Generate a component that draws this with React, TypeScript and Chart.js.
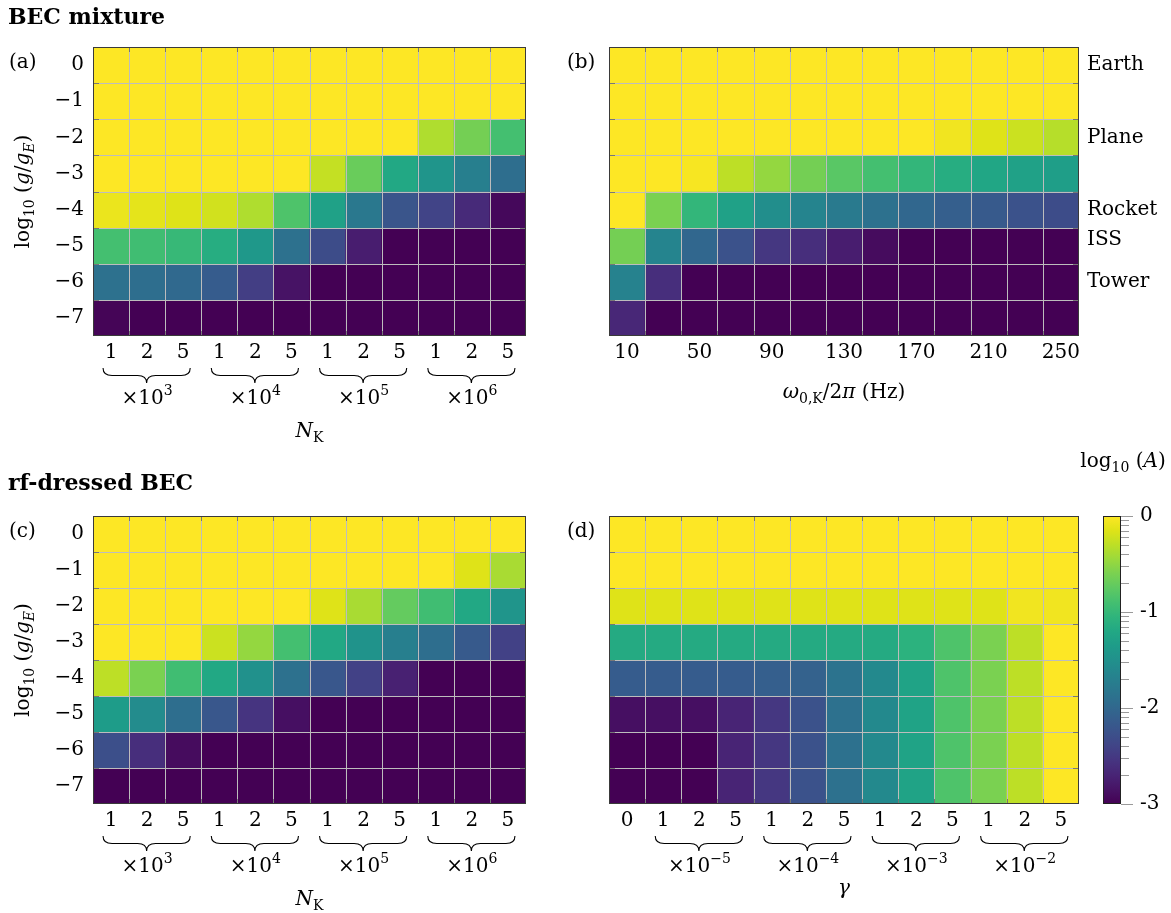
import React, { useEffect, useRef } from 'react';
import { Chart, registerables } from 'chart.js';

Chart.register(...registerables);

// ---------------- data ----------------
const G_ROWS = [0, -1, -2, -3, -4, -5, -6, -7]; // log10(g/gE), top to bottom
const Y_TICKS = [0, -1, -2, -3, -4, -5, -6, -7];

const NK_LABELS = ['1', '2', '5', '1', '2', '5', '1', '2', '5', '1', '2', '5'];
const NK_EXPONENTS = ['3', '4', '5', '6'];
const OMEGA_LABELS = ['10', '30', '50', '70', '90', '110', '130', '150', '170', '190', '210', '230', '250'];
const GAMMA_LABELS = ['0', '1', '2', '5', '1', '2', '5', '1', '2', '5', '1', '2', '5'];
const GAMMA_EXPONENTS = ['\u22125', '\u22124', '\u22123', '\u22122'];

const PLATFORMS = ['Earth', 'Plane', 'Rocket', 'ISS', 'Tower'];
const PLATFORM_G = [0, -2, -4, -4.85, -6];

const CBAR_MIN = -3;
const CBAR_MAX = 0;
const CBAR_TICKS = [0, -1, -2, -3];

// log10(A) values, rows from log10(g/gE)=0 (top) to -7 (bottom)
const MIX_NK = [
  [0, 0, 0, 0, 0, 0, 0, 0, 0, 0, 0, 0],
  [0, 0, 0, 0, 0, 0, 0, 0, 0, 0, 0, 0],
  [0, 0, 0, 0, 0, 0, 0, 0, 0, -0.36, -0.63, -0.9],
  [0, 0, 0, 0, 0, 0, -0.27, -0.69, -1.2, -1.44, -1.71, -1.92],
  [-0.09, -0.12, -0.15, -0.21, -0.36, -0.84, -1.29, -1.8, -2.22, -2.4, -2.64, -2.94],
  [-0.9, -0.93, -0.99, -1.14, -1.41, -1.89, -2.31, -2.76, -3, -3, -3, -3],
  [-1.89, -1.92, -1.98, -2.13, -2.46, -2.85, -3, -3, -3, -3, -3, -3],
  [-2.97, -3, -3, -3, -3, -3, -3, -3, -3, -3, -3, -3],
];

const MIX_OMEGA = [
  [0, 0, 0, 0, 0, 0, 0, 0, 0, 0, 0, 0, 0],
  [0, 0, 0, 0, 0, 0, 0, 0, 0, 0, 0, 0, 0],
  [0, 0, 0, 0, 0, 0, 0, 0, 0, -0.06, -0.15, -0.24, -0.33],
  [0, 0, -0.03, -0.3, -0.48, -0.63, -0.78, -0.9, -1.02, -1.14, -1.23, -1.29, -1.32],
  [0, -0.6, -1.02, -1.29, -1.53, -1.65, -1.77, -1.89, -2.01, -2.1, -2.16, -2.25, -2.31],
  [-0.63, -1.65, -2.01, -2.25, -2.52, -2.61, -2.76, -2.91, -3, -3, -3, -3, -3],
  [-1.68, -2.61, -3, -3, -3, -3, -3, -3, -3, -3, -3, -3, -3],
  [-2.67, -3, -3, -3, -3, -3, -3, -3, -3, -3, -3, -3, -3],
];

const RF_NK = [
  [0, 0, 0, 0, 0, 0, 0, 0, 0, 0, 0, 0],
  [0, 0, 0, 0, 0, 0, 0, 0, 0, 0, -0.15, -0.39],
  [0, 0, 0, 0, 0, 0, -0.15, -0.39, -0.72, -0.93, -1.2, -1.44],
  [0, 0, 0, -0.24, -0.48, -0.9, -1.2, -1.47, -1.71, -1.92, -2.16, -2.43],
  [-0.3, -0.6, -0.93, -1.2, -1.5, -1.89, -2.19, -2.43, -2.73, -3, -3, -3],
  [-1.35, -1.56, -1.92, -2.19, -2.55, -2.88, -3, -3, -3, -3, -3, -3],
  [-2.28, -2.61, -2.91, -3, -3, -3, -3, -3, -3, -3, -3, -3],
  [-3, -3, -3, -3, -3, -3, -3, -3, -3, -3, -3, -3],
];

const RF_GAMMA = [
  [0, 0, 0, 0, 0, 0, 0, 0, 0, 0, 0, 0, 0],
  [0, 0, 0, 0, 0, 0, 0, 0, 0, 0, 0, 0, 0],
  [-0.15, -0.15, -0.15, -0.15, -0.15, -0.15, -0.15, -0.15, -0.15, -0.15, -0.15, -0.06, -0.06],
  [-1.17, -1.17, -1.17, -1.17, -1.17, -1.17, -1.17, -1.17, -1.08, -0.84, -0.6, -0.3, 0],
  [-2.13, -2.13, -2.13, -2.13, -2.1, -2.07, -1.86, -1.59, -1.26, -0.84, -0.6, -0.3, 0],
  [-2.88, -2.88, -2.88, -2.7, -2.52, -2.25, -1.89, -1.59, -1.26, -0.84, -0.6, -0.3, 0],
  [-3, -3, -3, -2.7, -2.52, -2.25, -1.89, -1.59, -1.26, -0.84, -0.6, -0.3, 0],
  [-3, -3, -3, -2.7, -2.52, -2.25, -1.89, -1.59, -1.26, -0.84, -0.6, -0.3, 0],
];

// viridis colour map
const VIRIDIS = [
  '#440154', '#471365', '#482475', '#463480', '#414487', '#3b528b', '#355f8d',
  '#2f6c8e', '#2a788e', '#25848e', '#21918c', '#1e9c89', '#22a884', '#2fb47c',
  '#44bf70', '#5ec962', '#7ad151', '#9bd93c', '#bddf26', '#dfe318', '#fde725',
];

// ---------------- helpers ----------------
const SERIF = '"DejaVu Serif", "Liberation Serif", serif';
const FS = 20;
const F_MAIN = `${FS}px ${SERIF}`;
const F_IT = `italic ${FS}px ${SERIF}`;
const F_SUB = `14px ${SERIF}`;
const F_SUB_IT = `italic 14px ${SERIF}`;
const F_BOLD = `bold 22px ${SERIF}`;

function hexRgb(h: string): number[] {
  return [parseInt(h.slice(1, 3), 16), parseInt(h.slice(3, 5), 16), parseInt(h.slice(5, 7), 16)];
}

function viridis(v: number): string {
  const t = Math.min(1, Math.max(0, (v - CBAR_MIN) / (CBAR_MAX - CBAR_MIN)));
  const n = VIRIDIS.length - 1;
  const p = t * n;
  const i = Math.min(n - 1, Math.floor(p));
  const f = p - i;
  const a = hexRgb(VIRIDIS[i]);
  const b = hexRgb(VIRIDIS[i + 1]);
  const c = a.map((x, k) => Math.round(x + (b[k] - x) * f));
  return `rgb(${c[0]},${c[1]},${c[2]})`;
}

type Seg = { t: string; f: string; dy?: number };

function drawRich(ctx: CanvasRenderingContext2D, segs: Seg[], x: number, y: number, align: 'left' | 'center') {
  ctx.save();
  ctx.textAlign = 'left';
  ctx.textBaseline = 'alphabetic';
  ctx.fillStyle = '#000';
  let w = 0;
  for (const s of segs) {
    ctx.font = s.f;
    w += ctx.measureText(s.t).width;
  }
  let cx = align === 'center' ? x - w / 2 : x;
  for (const s of segs) {
    ctx.font = s.f;
    ctx.fillText(s.t, cx, y + (s.dy || 0));
    cx += ctx.measureText(s.t).width;
  }
  ctx.restore();
}

function drawBrace(ctx: CanvasRenderingContext2D, x1: number, x2: number, y0: number, h: number) {
  const xm = (x1 + x2) / 2;
  const q = 9;
  const ym = y0 + h / 2;
  ctx.save();
  ctx.strokeStyle = '#000';
  ctx.lineWidth = 1.1;
  ctx.beginPath();
  ctx.moveTo(x1, y0);
  ctx.quadraticCurveTo(x1, ym, x1 + q, ym);
  ctx.lineTo(xm - q, ym);
  ctx.quadraticCurveTo(xm, ym, xm, y0 + h);
  ctx.quadraticCurveTo(xm, ym, xm + q, ym);
  ctx.lineTo(x2 - q, ym);
  ctx.quadraticCurveTo(x2, ym, x2, y0);
  ctx.stroke();
  ctx.restore();
}

function drawGroups(chart: any, startIdx: number, exps: string[]) {
  const { ctx, chartArea } = chart;
  const xs = chart.scales.x;
  const b = chartArea.bottom;
  exps.forEach((e, g) => {
    const i0 = startIdx + g * 3;
    const x1 = xs.getPixelForValue(i0) - 8;
    const x2 = xs.getPixelForValue(i0 + 2) + 7;
    drawBrace(ctx, x1, x2, b + 32, 15);
    const xc = xs.getPixelForValue(i0 + 1);
    drawRich(ctx, [{ t: '\u00d710', f: F_MAIN }, { t: e, f: F_SUB, dy: -9 }], xc, b + 68, 'center');
  });
}

function drawYTitle(ctx: CanvasRenderingContext2D, x: number, cy: number) {
  ctx.save();
  ctx.translate(x, cy);
  ctx.rotate(-Math.PI / 2);
  drawRich(
    ctx,
    [
      { t: 'log', f: F_MAIN },
      { t: '10', f: F_SUB, dy: 5 },
      { t: ' (', f: F_MAIN },
      { t: 'g', f: F_IT },
      { t: '/', f: F_MAIN },
      { t: 'g', f: F_IT },
      { t: 'E', f: F_SUB_IT, dy: 5 },
      { t: ')', f: F_MAIN },
    ],
    0,
    6,
    'center'
  );
  ctx.restore();
}

function drawNK(chart: any) {
  const { ctx, chartArea } = chart;
  drawRich(
    ctx,
    [{ t: 'N', f: F_IT }, { t: 'K', f: F_SUB, dy: 5 }],
    (chartArea.left + chartArea.right) / 2,
    chartArea.bottom + 101,
    'center'
  );
}

const heatGridPlugin = {
  id: 'heatGrid',
  afterDatasetsDraw(chart: any) {
    const { ctx } = chart;
    const { left, right, top, bottom } = chart.chartArea;
    const xs = chart.scales.x;
    const ys = chart.scales.y;
    const n = chart.data.labels.length;
    const xB: number[] = [];
    for (let i = 1; i < n; i++) xB.push(Math.round((xs.getPixelForValue(i - 1) + xs.getPixelForValue(i)) / 2) + 0.5);
    const yB: number[] = [];
    for (let k = 1; k < G_ROWS.length; k++) yB.push(Math.round(ys.getPixelForValue((G_ROWS[k - 1] + G_ROWS[k]) / 2)) + 0.5);
    ctx.save();
    ctx.lineWidth = 1;
    ctx.strokeStyle = '#bdbdbd';
    ctx.beginPath();
    xB.forEach((x) => { ctx.moveTo(x, top); ctx.lineTo(x, bottom); });
    yB.forEach((y) => { ctx.moveTo(left, y); ctx.lineTo(right, y); });
    ctx.stroke();
    ctx.strokeStyle = 'rgba(90,90,90,0.7)';
    ctx.beginPath();
    xB.forEach((x) => {
      ctx.moveTo(x, top); ctx.lineTo(x, top + 5);
      ctx.moveTo(x, bottom); ctx.lineTo(x, bottom - 5);
    });
    yB.forEach((y) => {
      ctx.moveTo(left, y); ctx.lineTo(left + 6, y);
      ctx.moveTo(right, y); ctx.lineTo(right - 6, y);
    });
    ctx.stroke();
    ctx.strokeStyle = '#3a3a3a';
    ctx.strokeRect(Math.round(left) + 0.5, Math.round(top) + 0.5, Math.round(right - left) - 1, Math.round(bottom - top) - 1);
    ctx.restore();
  },
};

type Area = { l: number; t: number; r: number; b: number };
type Box = { left: number; top: number; width: number; height: number };

type HeatSpec = {
  box: Box;
  area: Area;
  labels: string[];
  values: number[][];
  showY: boolean;
  showTick: (i: number) => boolean;
  extra: (chart: any) => void;
};

function makeHeat(canvas: HTMLCanvasElement, spec: HeatSpec): Chart {
  const { box, area, labels, values } = spec;
  const datasets = values.map((row, r) => ({
    data: row.map(() => [G_ROWS[r] - 0.5, G_ROWS[r] + 0.5]),
    backgroundColor: row.map((v) => viridis(v)),
    borderWidth: 0,
    grouped: false,
    barPercentage: 1,
    categoryPercentage: 1,
  }));
  return new Chart(canvas, {
    type: 'bar',
    data: { labels, datasets: datasets as any },
    options: {
      responsive: false,
      animation: false,
      events: [],
      layout: { padding: { left: 0, top: area.t, right: box.width - area.r, bottom: 0 } },
      plugins: { legend: { display: false }, tooltip: { enabled: false } },
      scales: {
        x: {
          type: 'category',
          offset: true,
          grid: { display: false, drawTicks: false },
          border: { display: false },
          ticks: {
            autoSkip: false,
            maxRotation: 0,
            padding: 5,
            color: '#000',
            font: { family: SERIF, size: FS },
            callback: (_v: any, i: number) => (spec.showTick(i) ? labels[i] : ''),
          },
          afterFit: (s: any) => { s.height = box.height - area.b; },
        },
        y: {
          type: 'linear',
          min: -7.5,
          max: 0.5,
          grid: { display: false, drawTicks: false },
          border: { display: false },
          afterBuildTicks: (s: any) => { s.ticks = Y_TICKS.map((value) => ({ value })); },
          ticks: {
            display: spec.showY,
            padding: 9,
            color: '#000',
            font: { family: SERIF, size: FS },
            callback: (v: any) => (Number(v) === 0 ? '0' : '\u2212' + Math.abs(Number(v))),
          },
          afterFit: (s: any) => { s.width = area.l; },
        },
      } as any,
    },
    plugins: [heatGridPlugin, { id: 'extras', afterDraw: (c: any) => spec.extra(c) }],
  });
}

const CB_BOX: Box = { left: 1075, top: 430, width: 96, height: 483 };
const CB_AREA: Area = { l: 28, t: 86, r: 46, b: 374 };

function makeColorbar(canvas: HTMLCanvasElement): Chart {
  return new Chart(canvas, {
    type: 'bar',
    data: {
      labels: ['log10A'],
      datasets: [
        {
          data: [[CBAR_MIN, CBAR_MAX]] as any,
          backgroundColor: (c: any) => {
            const ch = c.chart;
            const area = ch.chartArea;
            const ys = ch.scales.y;
            if (!area || !ys) return VIRIDIS[10];
            let y0 = ys.getPixelForValue(CBAR_MIN);
            let y1 = ys.getPixelForValue(CBAR_MAX);
            if (!isFinite(y0) || !isFinite(y1)) {
              y0 = area.bottom;
              y1 = area.top;
            }
            if (!isFinite(y0) || !isFinite(y1)) return VIRIDIS[10];
            const g = ch.ctx.createLinearGradient(0, y0, 0, y1);
            VIRIDIS.forEach((col, i) => g.addColorStop(i / (VIRIDIS.length - 1), col));
            return g;
          },
          borderWidth: 0,
          barPercentage: 1,
          categoryPercentage: 1,
        },
      ],
    },
    options: {
      responsive: false,
      animation: false,
      events: [],
      layout: { padding: { left: CB_AREA.l, top: CB_AREA.t, right: 0, bottom: CB_BOX.height - CB_AREA.b } },
      plugins: { legend: { display: false }, tooltip: { enabled: false } },
      scales: {
        x: { display: false },
        y: {
          position: 'right',
          min: CBAR_MIN,
          max: CBAR_MAX,
          grid: { display: false, drawTicks: false },
          border: { display: false },
          afterBuildTicks: (s: any) => { s.ticks = CBAR_TICKS.map((value) => ({ value })); },
          ticks: {
            padding: 19,
            color: '#000',
            font: { family: SERIF, size: FS },
            callback: (v: any) => String(v),
          },
          afterFit: (s: any) => { s.width = CB_BOX.width - CB_AREA.r; },
        },
      } as any,
    },
    plugins: [
      {
        id: 'cbarExtras',
        afterDraw: (chart: any) => {
          const { ctx } = chart;
          const { left, right, top, bottom } = chart.chartArea;
          const ys = chart.scales.y;
          ctx.save();
          ctx.strokeStyle = '#9a9a9a';
          ctx.lineWidth = 1;
          ctx.beginPath();
          CBAR_TICKS.forEach((v) => {
            const y = Math.round(ys.getPixelForValue(v)) + 0.5;
            ctx.moveTo(right, y); ctx.lineTo(right + 12, y);
            if (v > CBAR_MIN) {
              for (let k = 2; k <= 9; k++) {
                const ym = Math.round(ys.getPixelForValue(v - 1 + Math.log10(k))) + 0.5;
                ctx.moveTo(right, ym); ctx.lineTo(right + 8, ym);
              }
            }
          });
          ctx.stroke();
          ctx.strokeStyle = '#222';
          ctx.strokeRect(Math.round(left) + 0.5, Math.round(top) + 0.5, Math.round(right - left) - 1, Math.round(bottom - top) - 1);
          ctx.restore();
          drawRich(
            ctx,
            [
              { t: 'log', f: F_MAIN },
              { t: '10', f: F_SUB, dy: 5 },
              { t: ' (', f: F_MAIN },
              { t: 'A', f: F_IT },
              { t: ')', f: F_MAIN },
            ],
            48,
            37,
            'center'
          );
        },
      },
    ],
  });
}

// ---------------- panels ----------------
const PANEL_A: HeatSpec = {
  box: { left: 0, top: 0, width: 560, height: 456 },
  area: { l: 93, t: 47, r: 526, b: 336 },
  labels: NK_LABELS,
  values: MIX_NK,
  showY: true,
  showTick: () => true,
  extra: (chart: any) => {
    const { ctx, chartArea } = chart;
    drawRich(ctx, [{ t: 'BEC mixture', f: F_BOLD }], 8, 24, 'left');
    drawRich(ctx, [{ t: '(a)', f: F_MAIN }], 9, 68, 'left');
    drawYTitle(ctx, 23, (chartArea.top + chartArea.bottom) / 2);
    drawGroups(chart, 0, NK_EXPONENTS);
    drawNK(chart);
  },
};

const PANEL_B: HeatSpec = {
  box: { left: 560, top: 0, width: 611, height: 456 },
  area: { l: 49, t: 47, r: 519, b: 336 },
  labels: OMEGA_LABELS,
  values: MIX_OMEGA,
  showY: false,
  showTick: (i: number) => i % 2 === 0,
  extra: (chart: any) => {
    const { ctx, chartArea } = chart;
    const ys = chart.scales.y;
    drawRich(ctx, [{ t: '(b)', f: F_MAIN }], 7, 68, 'left');
    ctx.save();
    ctx.font = F_MAIN;
    ctx.fillStyle = '#000';
    ctx.textAlign = 'left';
    ctx.textBaseline = 'middle';
    PLATFORMS.forEach((p, i) => ctx.fillText(p, chartArea.right + 8, ys.getPixelForValue(PLATFORM_G[i])));
    ctx.restore();
    drawRich(
      ctx,
      [
        { t: '\u03c9', f: F_IT },
        { t: '0,K', f: F_SUB, dy: 5 },
        { t: '/2', f: F_MAIN },
        { t: '\u03c0', f: F_IT },
        { t: ' (Hz)', f: F_MAIN },
      ],
      (chartArea.left + chartArea.right) / 2,
      chartArea.bottom + 62,
      'center'
    );
  },
};

const PANEL_C: HeatSpec = {
  box: { left: 0, top: 456, width: 560, height: 457 },
  area: { l: 93, t: 60, r: 526, b: 348 },
  labels: NK_LABELS,
  values: RF_NK,
  showY: true,
  showTick: () => true,
  extra: (chart: any) => {
    const { ctx, chartArea } = chart;
    drawRich(ctx, [{ t: 'rf-dressed BEC', f: F_BOLD }], 8, 34, 'left');
    drawRich(ctx, [{ t: '(c)', f: F_MAIN }], 9, 81, 'left');
    drawYTitle(ctx, 23, (chartArea.top + chartArea.bottom) / 2);
    drawGroups(chart, 0, NK_EXPONENTS);
    drawNK(chart);
  },
};

const PANEL_D: HeatSpec = {
  box: { left: 560, top: 456, width: 525, height: 457 },
  area: { l: 49, t: 60, r: 519, b: 348 },
  labels: GAMMA_LABELS,
  values: RF_GAMMA,
  showY: false,
  showTick: () => true,
  extra: (chart: any) => {
    const { ctx, chartArea } = chart;
    drawRich(ctx, [{ t: '(d)', f: F_MAIN }], 7, 81, 'left');
    drawGroups(chart, 1, GAMMA_EXPONENTS);
    drawRich(ctx, [{ t: '\u03b3', f: F_IT }], (chartArea.left + chartArea.right) / 2, chartArea.bottom + 90, 'center');
  },
};

function ChartCanvas({ box, make }: { box: Box; make: (c: HTMLCanvasElement) => Chart }) {
  const ref = useRef<HTMLCanvasElement>(null);
  useEffect(() => {
    if (!ref.current) return;
    let ch: Chart | null = null;
    try {
      ch = make(ref.current);
    } catch (e) {
      console.error(e);
    }
    return () => { if (ch) ch.destroy(); };
  }, []);
  return (
    <canvas
      ref={ref}
      width={box.width}
      height={box.height}
      style={{ position: 'absolute', left: box.left, top: box.top, width: box.width, height: box.height }}
    />
  );
}

export default function App() {
  const panels = [PANEL_A, PANEL_B, PANEL_C, PANEL_D];
  return (
    <div style={{ position: 'absolute', left: 0, top: 0, width: 1171, height: 913, background: '#fff', overflow: 'hidden' }}>
      {panels.map((p, i) => (
        <ChartCanvas key={i} box={p.box} make={(c) => makeHeat(c, p)} />
      ))}
      <ChartCanvas box={CB_BOX} make={makeColorbar} />
    </div>
  );
}
